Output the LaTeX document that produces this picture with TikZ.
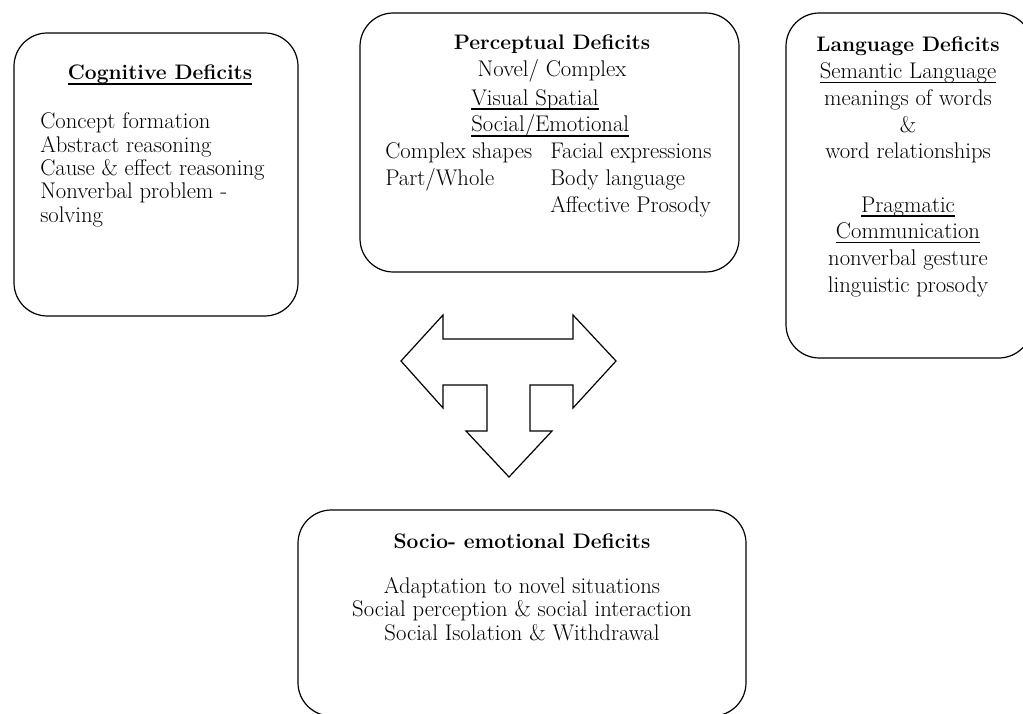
\documentclass[tikz,border=0pt]{standalone}
\usepackage{fontspec}

% Underline drawn a little below the baseline
\newsavebox{\undlbox}
\newcommand{\undl}[1]{\sbox{\undlbox}{#1}\leavevmode\rlap{\rule[-3.4pt]{\wd\undlbox}{1.1pt}}\usebox{\undlbox}}

\begin{document}
\begin{tikzpicture}[
    x=0.75pt, y=-0.75pt, % pixel units, y pointing down
    deficitbox/.style={draw, line width=0.9pt, rounded corners=25pt}, % Rounded boxes
    blockarrow/.style={draw, line width=0.9pt, line join=miter}, % Three-way arrow
    bodytext/.style={inner sep=0pt, font=\fontsize{17}{17.5}\selectfont}, % Tight lines
    widetext/.style={inner sep=0pt, font=\fontsize{17}{20}\selectfont}, % Looser lines
    titletext/.style={inner sep=0pt, font=\fontsize{15.75}{17.5}\selectfont\bfseries} % Box titles
]

    \useasboundingbox (0,0) rectangle (1023,713);

    % Boxes
    \draw[deficitbox] (14,33) rectangle (298,316);   % Cognitive
    \draw[deficitbox] (360,13) rectangle (739,272);  % Perceptual
    \draw[deficitbox] (786,13) rectangle (1032,358); % Language
    \draw[deficitbox] (298,510) rectangle (746,716); % Socio-emotional

    % Cognitive deficits (multi-line nodes sit on their last baseline)
    \node[titletext, anchor=base] (cogtitle) at (160,80) {\undl{Cognitive Deficits}};
    \node[bodytext, anchor=base west, align=left] (coglist) at (40,222)
        {Concept formation\\Abstract reasoning\\Cause \& effect reasoning\\Nonverbal problem -\\solving};

    % Perceptual deficits
    \node[titletext, anchor=base] (pertitle) at (552,50) {Perceptual Deficits};
    \node[bodytext, anchor=base] (pernovel) at (552,77) {Novel/ Complex};
    \node[widetext, anchor=base west, align=left] (perkinds) at (471,132)
        {\undl{Visual Spatial}\\\undl{Social/Emotional}};
    \node[widetext, anchor=base west, align=left] (perleft) at (385,185)
        {Complex shapes\\Part/Whole};
    \node[widetext, anchor=base west, align=left] (perright) at (550,212)
        {Facial expressions\\Body language\\Affective Prosody};

    % Language deficits
    \node[titletext, anchor=base] (langtitle) at (908,52) {Language Deficits};
    \node[widetext, anchor=base, align=center] (langlist) at (908,292)
        {\undl{Semantic Language}\\meanings of words\\\&\\word relationships\\[20pt]
         \undl{Pragmatic}\\\undl{Communication}\\nonverbal gesture\\linguistic prosody};

    % Socio-emotional deficits
    \node[titletext, anchor=base] (soctitle) at (522,548) {Socio- emotional Deficits};
    \node[bodytext, anchor=base, align=center] (soclist) at (522,640)
        {Adaptation to novel situations\\Social perception \& social interaction\\Social Isolation \& Withdrawal};

    % Three-way block arrow
    \draw[blockarrow] (401,361) -- (443,315) -- (443,339) -- (573,339) -- (573,315)
        -- (616,361) -- (573,408) -- (573,385) -- (530,385) -- (530,431) -- (552,431)
        -- (509,477) -- (466,431) -- (487,431) -- (487,385) -- (443,385) -- (443,408) -- cycle;

\end{tikzpicture}
\end{document}
